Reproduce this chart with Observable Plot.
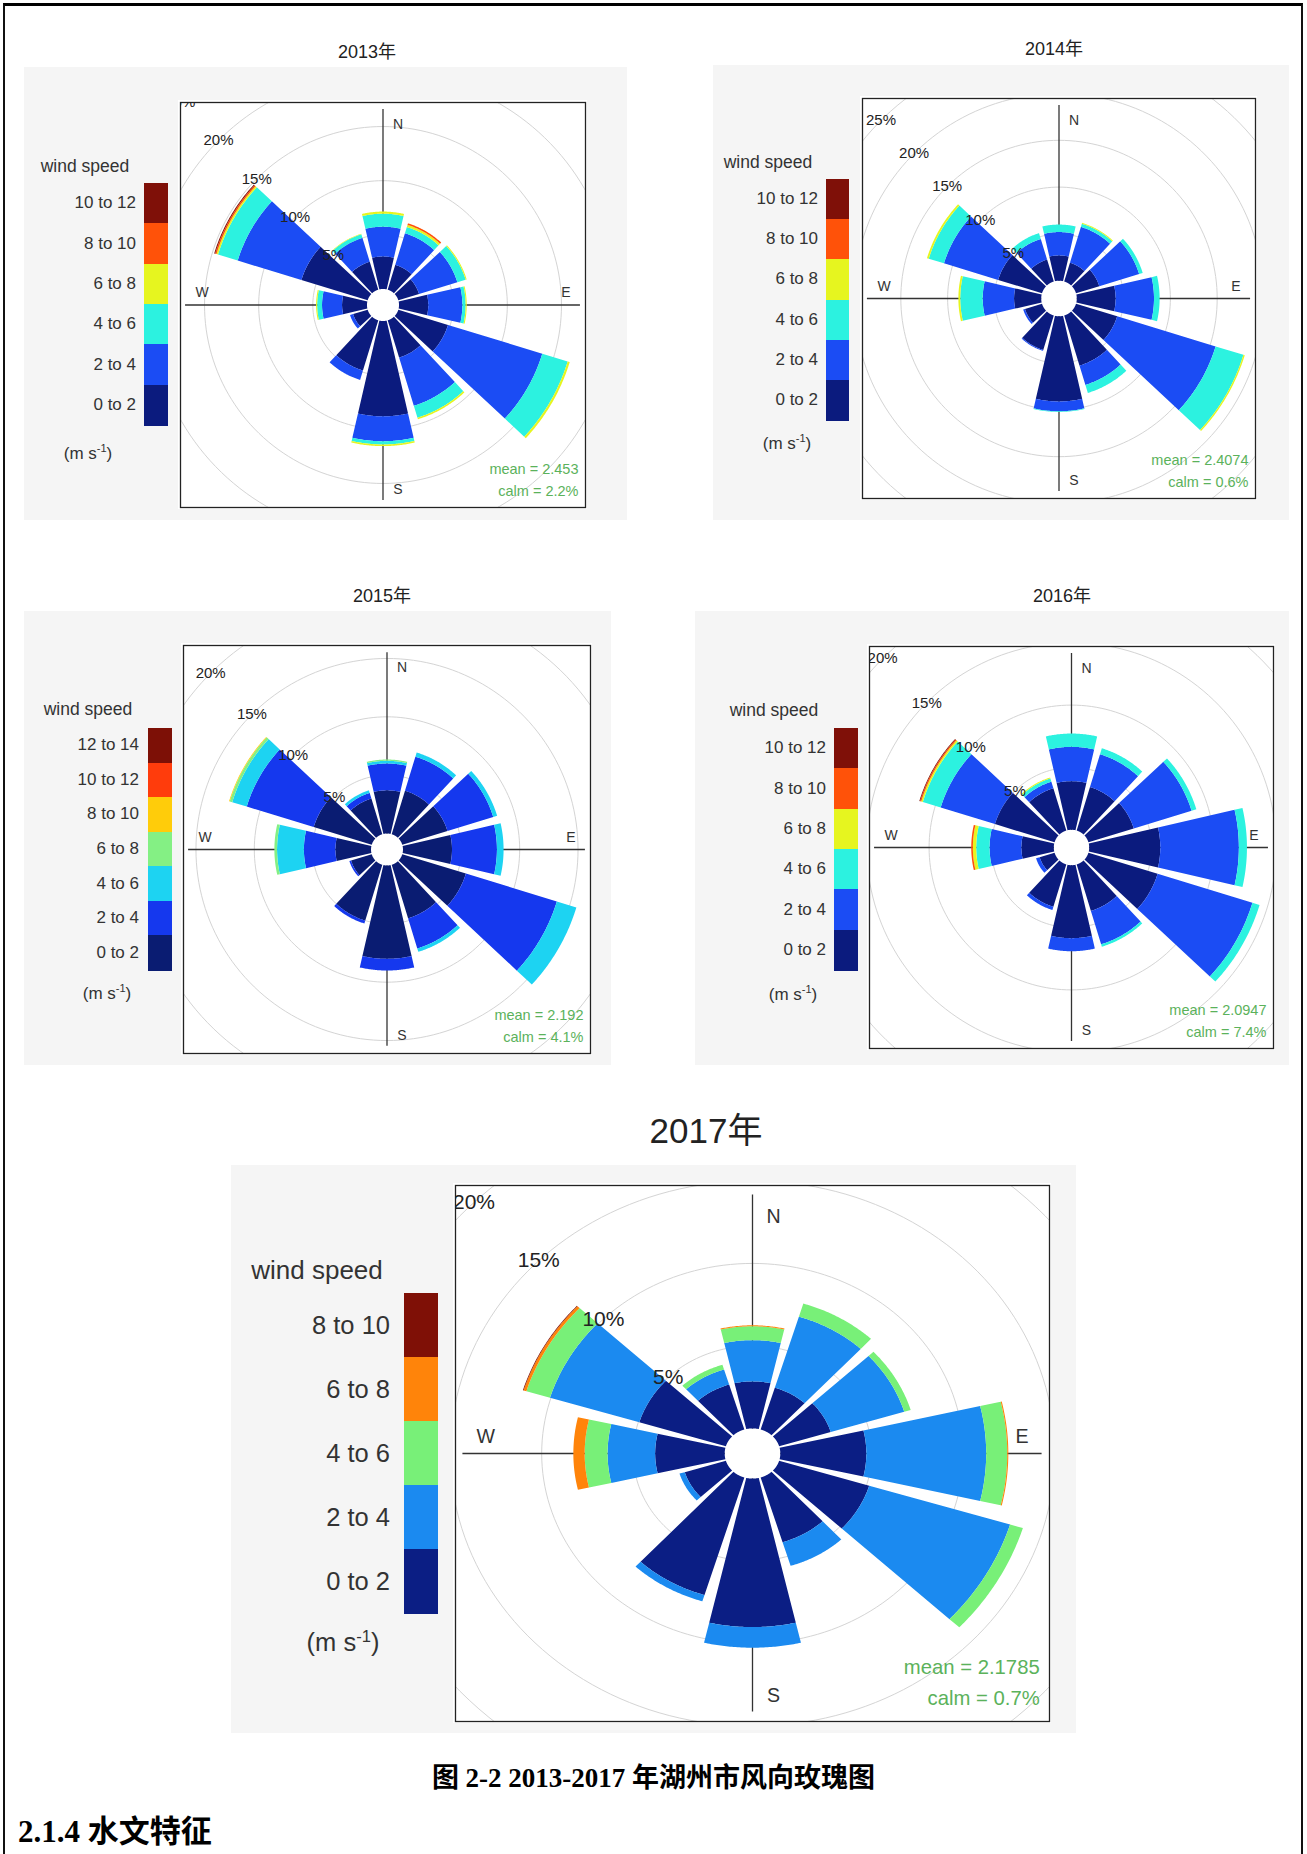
<!DOCTYPE html>
<html>
<head>
<meta charset="utf-8">
<script src="https://cdn.jsdelivr.net/npm/d3@7"></script>
<script src="https://cdn.jsdelivr.net/npm/@observablehq/plot@0.6"></script>
<style>
html,body{margin:0;padding:0;background:#fff}
body{position:relative;width:1307px;height:1854px;overflow:hidden;font-family:"Liberation Sans","Noto Sans CJK SC",Arial,sans-serif;color:#333}
#pageframe{position:absolute;left:3px;top:3px;width:1300px;height:1900px;border-top:3px solid #000;border-left:2px solid #111;border-right:2px solid #111;box-sizing:border-box}
.bg{position:absolute;background:#f5f5f5}
.ctr{position:absolute;transform:translate(-50%,-50%);white-space:nowrap}
.lab{position:absolute;transform:translate(-100%,-50%);white-space:nowrap}
.blk{position:absolute}
.caption{position:absolute;left:0;width:1307px;text-align:center;font-family:"Liberation Serif","Noto Sans CJK SC",serif;font-weight:bold;color:#000}
.heading{position:absolute;left:18px;font-family:"Liberation Serif","Noto Sans CJK SC",serif;font-weight:bold;color:#000}
</style>
</head>
<body>
<div id="pageframe"></div>
<script>
// ---------- data ----------
const directions = [0, 30, 60, 90, 120, 150, 180, 210, 240, 270, 300, 330]; // N, NNE, ENE, E, ESE, SSE, S, SSW, WSW, W, WNW, NNW
const binsTo12 = ["0 to 2", "2 to 4", "4 to 6", "6 to 8", "8 to 10", "10 to 12"];
const binsTo14 = ["0 to 2", "2 to 4", "4 to 6", "6 to 8", "8 to 10", "10 to 12", "12 to 14"];
const binsTo10 = ["0 to 2", "2 to 4", "4 to 6", "6 to 8", "8 to 10"];
const coloursJet = ["#0b1b7e", "#1b4cf4", "#2cf2e0", "#e6f51f", "#ff5209", "#7f1008"];
const colours2015 = ["#0a1c72", "#1538ee", "#1dd3f2", "#84f084", "#ffcc0a", "#ff3c0c", "#7d1006"];
const colours2017 = ["#0b1e84", "#1b8af0", "#78f078", "#ff840a", "#7f1006"];
const ringPercents = [5, 10, 15, 20, 25, 30];
const years = ["2013年", "2014年", "2015年", "2016年", "2017年"];
const meanSpeeds = ["2.453", "2.4074", "2.192", "2.0947", "2.1785"];
const calmPercents = ["2.2", "0.6", "4.1", "7.4", "0.7"];

// frequency (%) per direction (rows, same order as directions) and speed bin (columns)
const freq2013 = [
  [3.0, 2.75, 1.2, 0.2, 0, 0],
  [2.4, 3.05, 0.6, 0.2, 0.15, 0],
  [2.0, 3.7, 0.8, 0.1, 0, 0],
  [2.7, 3.15, 0.3, 0.1, 0, 0],
  [4.8, 9.1, 2.45, 0.2, 0, 0],
  [3.6, 4.65, 1.15, 0.15, 0, 0],
  [8.8, 2.3, 0.3, 0.15, 0, 0],
  [4.85, 0.9, 0, 0, 0, 0],
  [1.4, 0.3, 0, 0, 0, 0],
  [2.3, 1.85, 0.45, 0.1, 0, 0],
  [6.4, 6.15, 1.9, 0.15, 0.13, 0.09],
  [2.7, 2.3, 0.35, 0.05, 0, 0]
];
const freq2014 = [
  [2.7, 2.5, 0.8, 0, 0, 0],
  [2.1, 4.0, 0.35, 0.1, 0, 0],
  [2.6, 4.45, 0.4, 0, 0, 0],
  [4.15, 4.1, 0.6, 0, 0, 0],
  [4.6, 11.0, 3.1, 0.15, 0, 0],
  [5.6, 2.15, 0.9, 0, 0, 0],
  [9.1, 1.05, 0.07, 0, 0, 0],
  [3.85, 0.1, 0, 0, 0, 0],
  [1.9, 0.2, 0, 0, 0, 0],
  [2.9, 3.35, 2.4, 0.2, 0, 0],
  [4.9, 6.05, 1.7, 0.2, 0, 0],
  [2.45, 2.3, 0.65, 0, 0, 0]
];
const freq2015 = [
  [3.7, 2.3, 0.23, 0.11, 0, 0, 0],
  [3.9, 3.05, 0.37, 0, 0, 0, 0],
  [4.05, 4.1, 0.35, 0, 0, 0, 0],
  [4.2, 3.85, 0.57, 0, 0, 0, 0],
  [5.7, 8.15, 1.75, 0, 0, 0, 0],
  [4.8, 2.7, 0.3, 0, 0, 0, 0],
  [8.0, 1.0, 0, 0, 0, 0, 0],
  [5.0, 0.26, 0, 0, 0, 0, 0],
  [1.85, 0.15, 0, 0, 0, 0, 0],
  [3.05, 2.7, 2.3, 0.23, 0, 0, 0],
  [5.2, 6.0, 1.3, 0.22, 0.06, 0, 0],
  [3.2, 0.5, 0.23, 0, 0, 0, 0]
];
const freq2016 = [
  [3.9, 2.75, 1.07, 0, 0, 0],
  [3.65, 2.75, 0.5, 0, 0, 0],
  [3.8, 4.85, 0.4, 0, 0, 0],
  [5.7, 6.3, 0.65, 0, 0, 0],
  [5.8, 7.95, 0.6, 0, 0, 0],
  [3.9, 2.8, 0.2, 0, 0, 0],
  [5.85, 1.05, 0, 0, 0, 0],
  [3.55, 0.27, 0, 0, 0, 0],
  [1.25, 0.3, 0, 0, 0, 0],
  [2.6, 2.55, 1.07, 0.27, 0.13, 0],
  [5.0, 4.55, 1.5, 0.13, 0.1, 0.06],
  [3.55, 0.55, 0.27, 0.08, 0, 0]
];
const freq2017 = [
  [2.85, 2.5, 0.84, 0.06, 0],
  [2.65, 4.5, 0.83, 0, 0],
  [2.95, 4.2, 0.37, 0, 0],
  [4.7, 6.55, 1.15, 0.06, 0],
  [5.15, 8.05, 0.73, 0, 0],
  [4.1, 1.5, 0, 0, 0],
  [9.0, 1.25, 0, 0, 0],
  [7.45, 0.4, 0, 0, 0],
  [2.35, 0.3, 0, 0, 0],
  [3.8, 2.6, 1.25, 0.62, 0],
  [4.95, 5.1, 1.35, 0.16, 0.04],
  [2.85, 0.95, 0.3, 0, 0]
];

// ---------- layout (page pixels) ----------
const panels = [
  {i: 0, freq: freq2013, bins: binsTo12, colours: coloursJet,
   bg: [24, 67, 603, 453], title: [367, 50, 18], frame: [180, 102, 405, 405], kx: 10.83, ky: 10.83, off: 1.48, s: 1,
   legend: {title: [85, 166], bar: [144, 183, 24, 242], right: 136, unit: [88, 453], fs: 17.5}},
  {i: 1, freq: freq2014, bins: binsTo12, colours: coloursJet,
   bg: [713, 65, 576, 455], title: [1054, 47, 18], frame: [862, 98, 393, 400], kx: 9.36, ky: 9.36, off: 1.9, s: 1,
   legend: {title: [768, 162], bar: [826, 179, 23, 241], right: 818, unit: [787, 443], fs: 17.5}},
  {i: 2, freq: freq2015, bins: binsTo14, colours: colours2015,
   bg: [24, 611, 587, 454], title: [382, 594, 18], frame: [183, 645, 407, 408], kx: 11.67, ky: 11.67, off: 1.37, s: 1,
   legend: {title: [88, 709], bar: [148, 728, 24, 242], right: 139, unit: [107, 993], fs: 17.5}},
  {i: 3, freq: freq2016, bins: binsTo12, colours: coloursJet,
   bg: [695, 611, 594, 454], title: [1062, 594, 18], frame: [869, 646, 404, 402], kx: 12.47, ky: 12.47, off: 1.42, s: 1,
   legend: {title: [774, 710], bar: [834, 728, 24, 242], right: 826, unit: [793, 994], fs: 17.5}},
  {i: 4, freq: freq2017, bins: binsTo10, colours: colours2017,
   bg: [231, 1165, 845, 568], title: [706, 1127, 35], frame: [455, 1185, 594, 536], kx: 18.3, ky: 16.5, off: 1.52, s: 1.4,
   legend: {title: [317, 1270], bar: [404, 1293, 34, 320], right: 390, unit: [343, 1642], fs: 26}}
];

const HALF = 13; // half-width of each wedge, degrees
const rad = d => d * Math.PI / 180;

function wedgeRows(freq, bins, off) {
  const rows = [];
  freq.forEach((row, di) => {
    let c = 0;
    row.forEach((v, bi) => {
      const lo = c, hi = c + v;
      c = hi;
      if (v <= 0) return;
      const id = di * 10 + bi, th = directions[di];
      for (let a = th - HALF; a <= th + HALF + 1e-9; a += 0.5)
        rows.push({id, bin: bins[bi], x: (off + hi) * Math.sin(rad(a)), y: (off + hi) * Math.cos(rad(a))});
      for (let a = th + HALF; a >= th - HALF - 1e-9; a -= 0.5)
        rows.push({id, bin: bins[bi], x: (off + lo) * Math.sin(rad(a)), y: (off + lo) * Math.cos(rad(a))});
    });
  });
  return rows;
}
function circleRows(radii) {
  const rows = [];
  radii.forEach((r, k) => {
    for (let a = 0; a <= 360; a += 2) rows.push({k, x: r * Math.sin(rad(a)), y: r * Math.cos(rad(a))});
  });
  return rows;
}

function add(tag, cls, css, html) {
  const el = document.createElement(tag);
  if (cls) el.className = cls;
  Object.assign(el.style, css);
  if (html != null) el.innerHTML = html;
  document.body.appendChild(el);
  return el;
}

function rosePlot(P) {
  const [fx, fy, fw, fh] = P.frame;
  const m = 2, s = P.s;
  const Rx = fw / 2 / P.kx, Ry = fh / 2 / P.ky;
  const wedges = wedgeRows(P.freq, P.bins, P.off);
  const rings = circleRows(ringPercents.map(p => P.off + p));
  const hole = circleRows([P.off]);
  const lx = p => (P.off + p) * Math.sin(rad(315)), ly = p => (P.off + p) * Math.cos(rad(315));
  // only the ring labels whose anchor lies (nearly) inside the frame, as in the original
  const shownRings = ringPercents.filter(p => Math.abs(lx(p)) <= Rx + 0.6 && Math.abs(ly(p)) <= Ry + 0.6);
  const svg = Plot.plot({
    width: fw + 2 * m, height: fh + 2 * m, margin: m,
    x: {domain: [-Rx, Rx], axis: null},
    y: {domain: [-Ry, Ry], axis: null},
    color: {domain: P.bins, range: P.colours},
    style: {background: "white", fontFamily: "Liberation Sans, Arial, sans-serif", color: "#333"},
    marks: [
      Plot.line(rings, {x: "x", y: "y", z: "k", stroke: "#d4d4d4", strokeWidth: 1, clip: true}),
      Plot.ruleX([0], {y1: () => -Ry * 0.965, y2: () => Ry * 0.965, stroke: "#333", strokeWidth: 1.3}),
      Plot.ruleY([0], {x1: () => -Rx * 0.975, x2: () => Rx * 0.975, stroke: "#333", strokeWidth: 1.3}),
      Plot.line(hole, {x: "x", y: "y", z: "k", fill: "white", stroke: "none"}),
      Plot.line(wedges, {x: "x", y: "y", z: "id", fill: "bin", stroke: "none"}),
      Plot.text(shownRings, {x: lx, y: ly, text: p => p + "%", fontSize: 15 * s, fill: "#222", clip: true}),
      Plot.text(["N"], {text: d => d, frameAnchor: "top", dx: 15 * s, dy: 17 * s, fontSize: 14 * s, fill: "#333"}),
      Plot.text(["S"], {text: d => d, frameAnchor: "bottom", dx: 15 * s, dy: -14 * s, fontSize: 14 * s, fill: "#333"}),
      Plot.text(["W"], {text: d => d, frameAnchor: "left", dx: 15 * s, dy: -12 * s, fontSize: 14 * s, fill: "#333"}),
      Plot.text(["E"], {text: d => d, frameAnchor: "right", dx: -15 * s, dy: -12 * s, fontSize: 14 * s, fill: "#333"}),
      Plot.text([`mean = ${meanSpeeds[P.i]}`], {text: d => d, frameAnchor: "bottom-right", textAnchor: "end", dx: -7 * s, dy: -34 * s, fontSize: 14.5 * s, fill: "#5bb25b"}),
      Plot.text([`calm = ${calmPercents[P.i]}%`], {text: d => d, frameAnchor: "bottom-right", textAnchor: "end", dx: -7 * s, dy: -12 * s, fontSize: 14.5 * s, fill: "#5bb25b"}),
      Plot.frame({stroke: "#222", strokeWidth: 1.3})
    ]
  });
  svg.style.position = "absolute";
  svg.style.left = (fx - m) + "px";
  svg.style.top = (fy - m) + "px";
  document.body.appendChild(svg);
}

function legend(P) {
  const g = P.legend, n = P.bins.length;
  const [bx, by, bw, bh] = g.bar;
  const h = bh / n;
  add("div", "ctr", {left: g.title[0] + "px", top: g.title[1] + "px", fontSize: g.fs + "px"}, "wind speed");
  for (let i = 0; i < n; i++) {
    const j = n - 1 - i;
    add("div", "blk", {left: bx + "px", top: (by + i * h) + "px", width: bw + "px", height: (h + 0.6) + "px", background: P.colours[j]});
    add("div", "lab", {left: g.right + "px", top: (by + (i + 0.5) * h) + "px", fontSize: (g.fs - 0.5) + "px"}, P.bins[j]);
  }
  add("div", "ctr", {left: g.unit[0] + "px", top: g.unit[1] + "px", fontSize: (g.fs - 0.5) + "px"}, "(m s<sup style='font-size:0.65em'>-1</sup>)");
}

panels.forEach(P => {
  const [x, y, w, h] = P.bg;
  add("div", "bg", {left: x + "px", top: y + "px", width: w + "px", height: h + "px"});
});
panels.forEach(P => {
  add("div", "ctr", {left: P.title[0] + "px", top: P.title[1] + "px", fontSize: P.title[2] + "px", color: "#222"}, years[P.i]);
  rosePlot(P);
  legend(P);
});

add("div", "caption", {top: "1756px", fontSize: "27px"}, "图 2-2 2013-2017 年湖州市风向玫瑰图");
add("div", "heading", {top: "1806px", fontSize: "31px"}, "2.1.4 水文特征");
</script>
</body>
</html>
